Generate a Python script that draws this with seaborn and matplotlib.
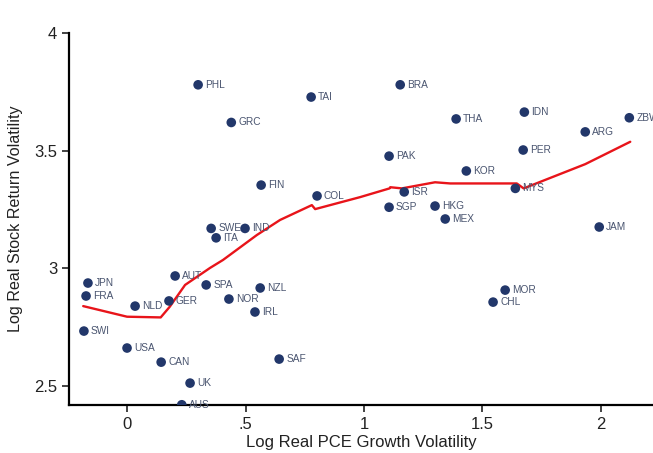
import matplotlib
matplotlib.use("Agg")
import matplotlib.pyplot as plt
import seaborn as sns
import pandas as pd

countries = ["PHL", "TAI", "GRC", "BRA", "THA", "IDN", "ZBW", "ARG", "PER", "PAK",
             "KOR", "FIN", "COL", "ISR", "MYS", "SGP", "HKG", "MEX", "JAM", "SWE",
             "IND", "ITA", "AUT", "JPN", "FRA", "SPA", "NZL", "NOR", "GER", "NLD",
             "IRL", "MOR", "CHL", "SWI", "USA", "CAN", "SAF", "UK", "AUS"]
pce_vol = [0.30, 0.777, 0.44, 1.153, 1.389, 1.677, 2.12, 1.934, 1.672, 1.106,
           1.432, 0.566, 0.802, 1.17, 1.639, 1.106, 1.30, 1.343, 1.993, 0.355,
           0.498, 0.376, 0.203, -0.165, -0.173, 0.334, 0.562, 0.43, 0.177, 0.034,
           0.54, 1.596, 1.545, -0.182, 0.0, 0.144, 0.642, 0.266, 0.231]
stock_vol = [3.78, 3.728, 3.62, 3.78, 3.635, 3.664, 3.64, 3.58, 3.503, 3.477,
             3.414, 3.354, 3.308, 3.325, 3.34, 3.26, 3.265, 3.21, 3.176, 3.17,
             3.17, 3.13, 2.968, 2.938, 2.883, 2.93, 2.917, 2.87, 2.862, 2.84,
             2.815, 2.908, 2.857, 2.734, 2.662, 2.602, 2.615, 2.513, 2.421]

fit_x = [-0.185, 0.0, 0.142, 0.18, 0.245, 0.35, 0.405, 0.548, 0.646, 0.78, 0.794,
         0.984, 1.108, 1.111, 1.16, 1.30, 1.364, 1.625, 1.645, 1.674, 1.934, 2.124]
fit_y = [2.840, 2.795, 2.792, 2.837, 2.93, 3.002, 3.036, 3.142, 3.206, 3.269, 3.252,
         3.303, 3.340, 3.345, 3.34, 3.366, 3.361, 3.361, 3.361, 3.34, 3.443, 3.538]

xticks = [0, 0.5, 1, 1.5, 2]
xtick_labels = ["0", ".5", "1", "1.5", "2"]
yticks = [2.5, 3, 3.5, 4]
ytick_labels = ["2.5", "3", "3.5", "4"]

sns.set_style("white")
plt.rcParams["font.family"] = ["Liberation Sans", "DejaVu Sans"]

fig = plt.figure(figsize=(6.53, 4.53), dpi=100)
ax = fig.add_axes([69/653, 1 - 405/453, 1 - 69/653, (405 - 33)/453])

df = pd.DataFrame({"x": pce_vol, "y": stock_vol, "c": countries})
sns.scatterplot(data=df, x="x", y="y", ax=ax, color="#22376a", s=48,
                edgecolor="none", zorder=3)
fit = pd.DataFrame({"x": fit_x, "y": fit_y})
sns.lineplot(data=fit, x="x", y="y", ax=ax, sort=False, color="#e8141a",
             linewidth=1.7, zorder=2)

for cx, cy, name in zip(pce_vol, stock_vol, countries):
    ax.annotate(name, (cx, cy), xytext=(5, 0), textcoords="offset points",
                va="center", ha="left", fontsize=7.3, color="#4a5570", zorder=4,
                annotation_clip=False)

ax.set_xlim(-0.245, 2.22)
ax.set_ylim(2.42, 4.0)
ax.set_xticks(xticks)
ax.set_xticklabels(xtick_labels)
ax.set_yticks(yticks)
ax.set_yticklabels(ytick_labels)
ax.tick_params(axis="both", direction="out", length=5, width=1.2, labelsize=12,
               colors="#222222", bottom=True, left=True)
ax.set_xlabel("Log Real PCE Growth Volatility", fontsize=12, color="#222222",
              labelpad=2)
ax.set_ylabel("Log Real Stock Return Volatility", fontsize=11.6, color="#222222",
              labelpad=8)

for side in ["top", "right"]:
    ax.spines[side].set_visible(False)
for side in ["left", "bottom"]:
    ax.spines[side].set_color("black")
    ax.spines[side].set_linewidth(1.6)

fig.savefig("out.png", dpi=100)
